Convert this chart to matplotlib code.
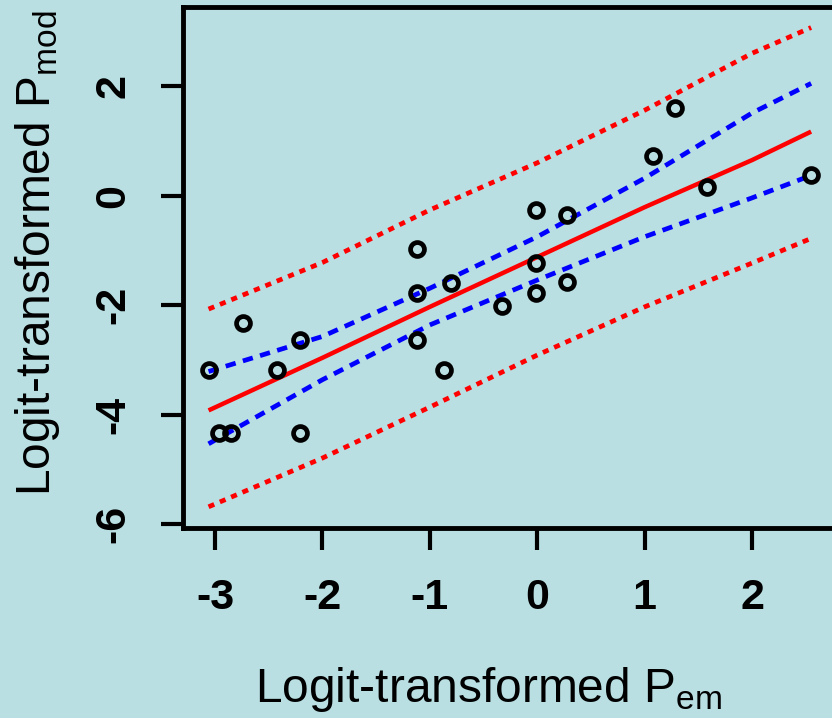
import numpy as np
import matplotlib.pyplot as plt

plt.rcParams['font.family'] = ['Liberation Sans', 'DejaVu Sans']
plt.rcParams['mathtext.fontset'] = 'custom'
plt.rcParams['mathtext.rm'] = 'Liberation Sans'
plt.rcParams['axes.unicode_minus'] = False

# Observed (empirical) vs modelled logits
em_x = [-3.06, -2.96, -2.85, -2.74, -2.42, -2.21, -2.21, -1.12, -1.12, -1.12, -0.87,
        -0.80, -0.33, -0.01, -0.01, -0.01, 0.28, 0.28, 1.08, 1.28, 1.58, 2.55]
mod_y = [-3.18, -4.34, -4.34, -2.32, -3.18, -2.64, -4.34, -0.98, -1.78, -2.64, -3.18,
         -1.60, -2.02, -0.26, -1.23, -1.78, -0.36, -1.58, 0.72, 1.60, 0.16, 0.38]

# Regression fit with confidence and prediction bands
band_x = [-3.06, -2.0, -1.0, 0.0, 1.0, 2.0, 2.55]
fit = [-3.92, -2.96, -2.03, -1.12, -0.21, 0.65, 1.17]
conf_upr = [-3.21, -2.57, -1.69, -0.75, 0.32, 1.51, 2.05]
conf_lwr = [-4.53, -3.36, -2.36, -1.54, -0.75, -0.04, 0.37]
pred_upr = [-2.07, -1.22, -0.26, 0.60, 1.56, 2.60, 3.07]
pred_lwr = [-5.68, -4.79, -3.86, -2.91, -2.03, -1.23, -0.78]

bg = '#b9dfe2'
W, H = 832, 718
fig = plt.figure(figsize=(W / 100, H / 100), dpi=100, facecolor=bg)
ax = fig.add_axes([183 / W, 1 - 528 / H, (834 - 183) / W, (528 - 7) / H])
ax.set_facecolor(bg)

ax.plot(band_x, pred_upr, color='red', lw=3.4, dashes=(1.3, 1.3))
ax.plot(band_x, pred_lwr, color='red', lw=3.4, dashes=(1.3, 1.3))
ax.plot(band_x, conf_upr, color='blue', lw=3.4, dashes=(2.2, 1.6))
ax.plot(band_x, conf_lwr, color='blue', lw=3.4, dashes=(2.2, 1.6))
ax.plot(band_x, fit, color='red', lw=3.2, solid_capstyle='butt')
ax.plot(em_x, mod_y, 'o', mfc='none', mec='black', ms=10, mew=3.4)

ax.set_xlim(-3.298, 2.763)
ax.set_ylim(-6.067, 3.445)
ax.set_xticks([-3, -2, -1, 0, 1, 2])
ax.set_yticks([-6, -4, -2, 0, 2])
ax.tick_params(length=16, width=3, pad=20, labelsize=31, color='black')
ax.tick_params(axis='y', labelrotation=90)
for lab in ax.get_xticklabels() + ax.get_yticklabels():
    lab.set_fontweight('bold')
for lab in ax.get_yticklabels():
    lab.set_va('center')

for s in ax.spines.values():
    s.set_linewidth(3.5)
    s.set_color('black')

fig.text(255 / W, 1 - 702 / H, r'Logit-transformed P$_{\mathrm{em}}$', fontsize=34.5,
         ha='left', va='baseline')
fig.text(50 / W, 1 - 496 / H, r'Logit-transformed P$_{\mathrm{mod}}$', fontsize=34.5,
         ha='left', va='baseline', rotation=90, rotation_mode='anchor')

fig.savefig('out.png', dpi=100, facecolor=bg)
